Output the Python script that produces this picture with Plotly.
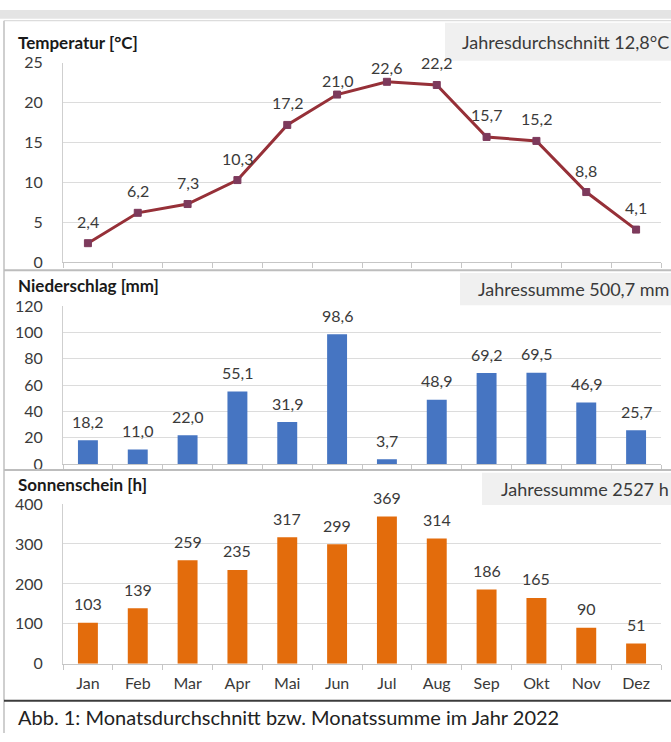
import plotly.graph_objects as go

months = ["Jan", "Feb", "Mar", "Apr", "Mai", "Jun", "Jul", "Aug", "Sep", "Okt", "Nov", "Dez"]
temperatur = [2.4, 6.2, 7.3, 10.3, 17.2, 21.0, 22.6, 22.2, 15.7, 15.2, 8.8, 4.1]
niederschlag = [18.2, 11.0, 22.0, 55.1, 31.9, 98.6, 3.7, 48.9, 69.2, 69.5, 46.9, 25.7]
sonnenschein = [103, 139, 259, 235, 317, 299, 369, 314, 186, 165, 90, 51]

title_temp = "Temperatur [°C]"
title_nied = "Niederschlag [mm]"
title_sonne = "Sonnenschein [h]"
box_temp = "Jahresdurchschnitt 12,8°C"
box_nied = "Jahressumme 500,7 mm"
box_sonne = "Jahressumme 2527 h"
caption = "Abb. 1: Monatsdurchschnitt bzw. Monatssumme im Jahr 2022"

W, H = 671, 742
FONT = "Lato"
TXT = "#3a3a3a"


def px(x):
    return x / W


def py(y):
    return 1 - y / H


def de(v, d=1):
    return f"{v:.{d}f}".replace(".", ",")


fig = go.Figure()

# Temperature line
fig.add_trace(go.Scatter(
    x=months, y=temperatur, mode="lines+markers",
    line=dict(color="#963038", width=3),
    marker=dict(symbol="square", size=7, color="#7d3a5c", line=dict(color="#7d3a5c", width=1)),
    xaxis="x", yaxis="y", hoverinfo="skip", showlegend=False,
))
# Precipitation bars
fig.add_trace(go.Bar(
    x=months, y=niederschlag, marker=dict(color="#4675c2", line=dict(width=0)),
    width=0.4, xaxis="x2", yaxis="y2", hoverinfo="skip", showlegend=False,
))
# Sunshine bars
fig.add_trace(go.Bar(
    x=months, y=sonnenschein, marker=dict(color="#e36c0c", line=dict(width=0)),
    width=0.4, xaxis="x3", yaxis="y3", hoverinfo="skip", showlegend=False,
))

LBL = dict(family=FONT, size=16, color=TXT)
annotations = []
# line labels (Excel nudges the two highest labels down)
tight = {"Jun", "Jul"}
for m, v in zip(months, temperatur):
    annotations.append(dict(x=m, y=v, xref="x", yref="y", text=de(v), showarrow=False,
                            yshift=14 if m in tight else 22, font=LBL))
for m, v in zip(months, niederschlag):
    annotations.append(dict(x=m, y=v, xref="x2", yref="y2", text=de(v), showarrow=False,
                            yshift=19, font=LBL))
for m, v in zip(months, sonnenschein):
    annotations.append(dict(x=m, y=v, xref="x3", yref="y3", text=str(v), showarrow=False,
                            yshift=19, font=LBL))

# panel titles
for t, y in [(title_temp, 33), (title_nied, 283), (title_sonne, 487)]:
    annotations.append(dict(x=px(16), y=py(y), xref="paper", yref="paper", text=f"<b>{t}</b>",
                            showarrow=False, xanchor="left", yanchor="middle",
                            font=dict(family=FONT, size=17, color="#1a1a1a")))

shapes = []
# outer frame bits
shapes.append(dict(type="rect", xref="paper", yref="paper", x0=0, x1=1, y0=py(9), y1=1,
                   fillcolor="#e4e4e4", line=dict(width=0), layer="below"))
shapes.append(dict(type="line", xref="paper", yref="paper", x0=px(4), x1=1, y0=py(11), y1=py(11),
                   line=dict(color="#d4d4d4", width=1)))
shapes.append(dict(type="line", xref="paper", yref="paper", x0=px(4), x1=px(4), y0=py(742), y1=py(11),
                   line=dict(color="#cfcfcf", width=2)))
for y in (267, 472):
    shapes.append(dict(type="line", xref="paper", yref="paper", x0=px(4), x1=1, y0=py(y), y1=py(y),
                       line=dict(color="#bdbdbd", width=2)))
shapes.append(dict(type="line", xref="paper", yref="paper", x0=px(4), x1=1, y0=py(709), y1=py(709),
                   line=dict(color="#3c3c3c", width=2)))

# boxes with yearly values
for t, x0, y0, y1 in [(box_temp, 445, 13, 52), (box_nied, 460, 270, 303), (box_sonne, 482, 475, 508)]:
    shapes.append(dict(type="rect", xref="paper", yref="paper", x0=px(x0), x1=1, y0=py(y1), y1=py(y0),
                       fillcolor="#f0f0f0", line=dict(width=0), layer="below"))
    annotations.append(dict(x=1, y=py((y0 + y1) / 2), xref="paper", yref="paper", text=t,
                            showarrow=False, xanchor="right", yanchor="middle", xshift=0,
                            font=dict(family=FONT, size=18, color=TXT)))

annotations.append(dict(x=px(16), y=py(726), xref="paper", yref="paper", text=caption,
                        showarrow=False, xanchor="left", yanchor="middle",
                        font=dict(family=FONT, size=20, color="#222222")))

xdom = [px(63), px(661)]


def xax(show_labels):
    return dict(domain=xdom, type="category", categoryorder="array", categoryarray=months,
                range=[-0.5, 11.5], showline=True, linecolor="#c6c6c6", linewidth=1,
                ticks="outside", ticklen=5, tickcolor="#c6c6c6", tickson="boundaries",
                showgrid=False, zeroline=False, showticklabels=show_labels,
                tickfont=dict(family=FONT, size=16, color=TXT), ticklabelstandoff=5,
                fixedrange=True)


def yax(dom, rng, dtick, anchor):
    return dict(domain=dom, range=rng, dtick=dtick, anchor=anchor, showline=True,
                linecolor="#cfcfcf", linewidth=1, showgrid=True, gridcolor="#dcdcdc",
                gridwidth=1, zeroline=False, ticks="", tickfont=dict(family=FONT, size=16, color=TXT),
                ticklabelstandoff=16, fixedrange=True)


fig.update_layout(
    width=W, height=H, margin=dict(l=0, r=0, t=0, b=0),
    paper_bgcolor="white", plot_bgcolor="white",
    font=dict(family=FONT, color=TXT),
    xaxis=dict(**xax(False), anchor="y"),
    xaxis2=dict(**xax(False), anchor="y2"),
    xaxis3=dict(**xax(True), anchor="y3"),
    yaxis=yax([py(259), py(54)], [0, 25], 5, "x"),
    yaxis2=yax([py(466), py(304)], [0, 120], 20, "x2"),
    yaxis3=yax([py(671), py(507)], [0, 400], 100, "x3"),
    annotations=annotations, shapes=shapes, barmode="overlay",
)

fig.write_html(
    "out.html",
    config={"displayModeBar": False},
    post_script="document.body.style.margin='0';document.body.style.overflow='hidden';",
)
